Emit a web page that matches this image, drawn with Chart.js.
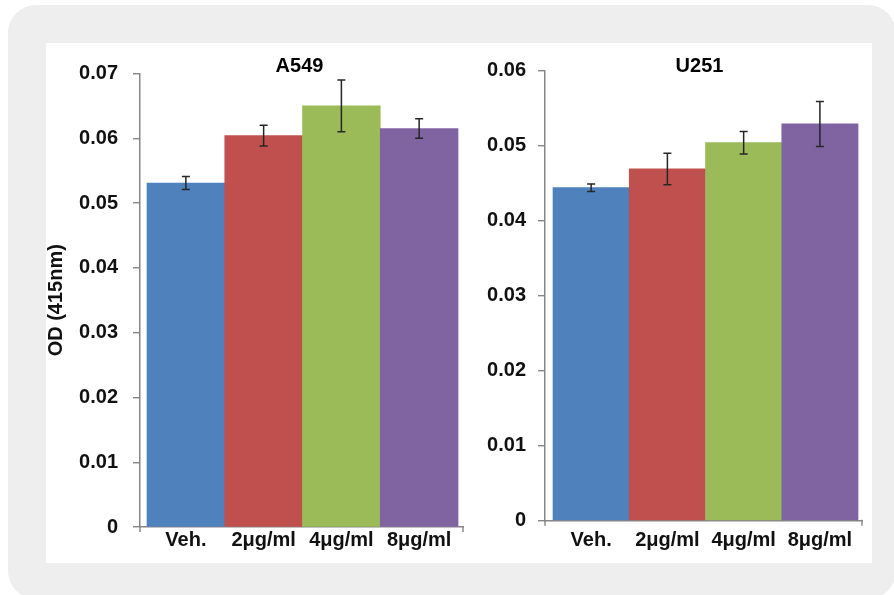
<!DOCTYPE html>
<html>
<head>
<meta charset="utf-8">
<script src="https://cdn.jsdelivr.net/npm/chart.js@4.4.1/dist/chart.umd.min.js"></script>
<style>
  html, body { margin: 0; padding: 0; background: #ffffff; }
  #frame {
    position: absolute; left: 8px; top: 5px; width: 888px; height: 594px;
    background: #eeeeee; border-radius: 28px;
  }
  #panel {
    position: absolute; left: 46px; top: 43px; width: 826px; height: 520px;
    background: #ffffff;
  }
  .box { position: absolute; top: 0; height: 520px; }
  #boxA { left: 0; width: 424px; }
  #boxU { left: 424px; width: 402px; }
</style>
</head>
<body>
<div id="frame"></div>
<div id="panel">
  <div class="box" id="boxA"><canvas id="chartA"></canvas></div>
  <div class="box" id="boxU"><canvas id="chartU"></canvas></div>
</div>
<script>
// Treatment groups
const categories = ['Veh.', '2μg/ml', '4μg/ml', '8μg/ml'];
const barColors = ['#4F81BD', '#C0504D', '#9BBB59', '#8064A2'];

// A549 cells: mean OD (415nm) and error
const a549Values = [0.0531, 0.0604, 0.0650, 0.0615];
const a549Errors = [0.0010, 0.0016, 0.0040, 0.0015];

// U251 cells: mean OD (415nm) and error
const u251Values = [0.0444, 0.0469, 0.0504, 0.0529];
const u251Errors = [0.0005, 0.0021, 0.0015, 0.0030];

// Y-axis ranges
const a549Axis = { min: 0, max: 0.07, step: 0.01 };
const u251Axis = { min: 0, max: 0.06, step: 0.01 };

const yTitle = 'OD (415nm)';

const FONT = "'Liberation Sans', Arial, sans-serif";
const AXIS_GREY = '#868686';

// Error bars, chart title and axis end marks
const decorations = {
  id: 'decorations',
  afterDatasetsDraw(chart, args, opts) {
    const ctx = chart.ctx;
    const meta = chart.getDatasetMeta(0);
    const y = chart.scales.y;
    ctx.save();
    ctx.strokeStyle = '#262626';
    ctx.lineWidth = 1.5;
    meta.data.forEach((bar, i) => {
      const v = opts.values[i], e = opts.errors[i];
      const yHi = y.getPixelForValue(v + e);
      const yLo = y.getPixelForValue(v - e);
      const cap = 4;
      ctx.beginPath();
      ctx.moveTo(bar.x, yHi); ctx.lineTo(bar.x, yLo);
      ctx.moveTo(bar.x - cap, yHi); ctx.lineTo(bar.x + cap, yHi);
      ctx.moveTo(bar.x - cap, yLo); ctx.lineTo(bar.x + cap, yLo);
      ctx.stroke();
    });
    ctx.restore();
  },
  afterDraw(chart, args, opts) {
    const ctx = chart.ctx;
    const a = chart.chartArea;
    ctx.save();
    // chart title
    ctx.fillStyle = '#000';
    ctx.font = 'bold 20px ' + FONT;
    ctx.textAlign = 'center';
    ctx.textBaseline = 'middle';
    ctx.fillText(opts.title, (a.left + a.right) / 2 + opts.titleDx, a.top + opts.titleDy);
    // small marks at both ends of the category axis
    ctx.strokeStyle = AXIS_GREY;
    ctx.lineWidth = 1.4;
    ctx.beginPath();
    ctx.moveTo(a.left, a.bottom); ctx.lineTo(a.left, a.bottom + 5);
    ctx.moveTo(a.right, a.bottom - 1); ctx.lineTo(a.right, a.bottom + 5);
    ctx.stroke();
    ctx.restore();
  }
};

function makeChart(canvasId, cfg) {
  const labelFont = { family: FONT, size: 20, weight: 'bold' };
  return new Chart(document.getElementById(canvasId), {
    type: 'bar',
    data: {
      labels: categories,
      datasets: [{
        data: cfg.values.map((v, i) => ({ x: i, y: v })),
        backgroundColor: barColors,
        borderWidth: 0,
        barPercentage: 1,
        categoryPercentage: 1
      }]
    },
    options: {
      responsive: true,
      maintainAspectRatio: false,
      animation: false,
      layout: { padding: cfg.padding },
      plugins: {
        legend: { display: false },
        tooltip: { enabled: false },
        decorations: {
          values: cfg.values, errors: cfg.errors,
          title: cfg.title, titleDx: cfg.titleDx, titleDy: cfg.titleDy
        }
      },
      scales: {
        x: {
          type: 'linear',
          offset: false,
          min: cfg.xMin, max: cfg.xMax,
          afterBuildTicks: s => { s.ticks = categories.map((c, i) => ({ value: i })); },
          afterFit: s => { s.height = cfg.xHeight; },
          grid: { display: false, drawTicks: false, offset: false },
          border: { display: true, color: AXIS_GREY, width: 1.5 },
          ticks: {
            color: '#111', font: labelFont, padding: cfg.xPad,
            autoSkip: false, maxRotation: 0,
            callback: v => categories[v]
          }
        },
        y: {
          min: cfg.axis.min, max: cfg.axis.max,
          afterFit: s => { s.width = cfg.yWidth; },
          ticks: {
            stepSize: cfg.axis.step, color: '#111', font: labelFont, padding: cfg.yPad,
            callback: v => (Math.abs(v) < 1e-9 ? '0' : v.toFixed(2))
          },
          grid: {
            display: true, drawOnChartArea: false, drawTicks: true,
            tickLength: 7, color: AXIS_GREY, lineWidth: 1.4
          },
          border: { display: true, color: AXIS_GREY, width: 1.5 },
          title: {
            display: cfg.showYTitle, text: yTitle, color: '#111',
            font: { family: FONT, size: 20, weight: 'bold', lineHeight: 1 },
            padding: { top: 0, bottom: 0 }
          }
        }
      }
    },
    plugins: [decorations]
  });
}

makeChart('chartA', {
  values: a549Values, errors: a549Errors, axis: a549Axis, title: 'A549',
  titleDx: -2, titleDy: -7, showYTitle: true,
  xMin: -0.59, xMax: 3.564,
  padding: { top: 30.5, right: 7, bottom: 0, left: 0 },
  yWidth: 94, xHeight: 36, yPad: 15, xPad: 1
});

makeChart('chartU', {
  values: u251Values, errors: u251Errors, axis: u251Axis, title: 'U251',
  titleDx: -4, titleDy: -4, showYTitle: false,
  xMin: -0.605, xMax: 3.552,
  padding: { top: 27.7, right: 10, bottom: 0, left: 0 },
  yWidth: 75, xHeight: 42.3, yPad: 12, xPad: 8
});
</script>
</body>
</html>
